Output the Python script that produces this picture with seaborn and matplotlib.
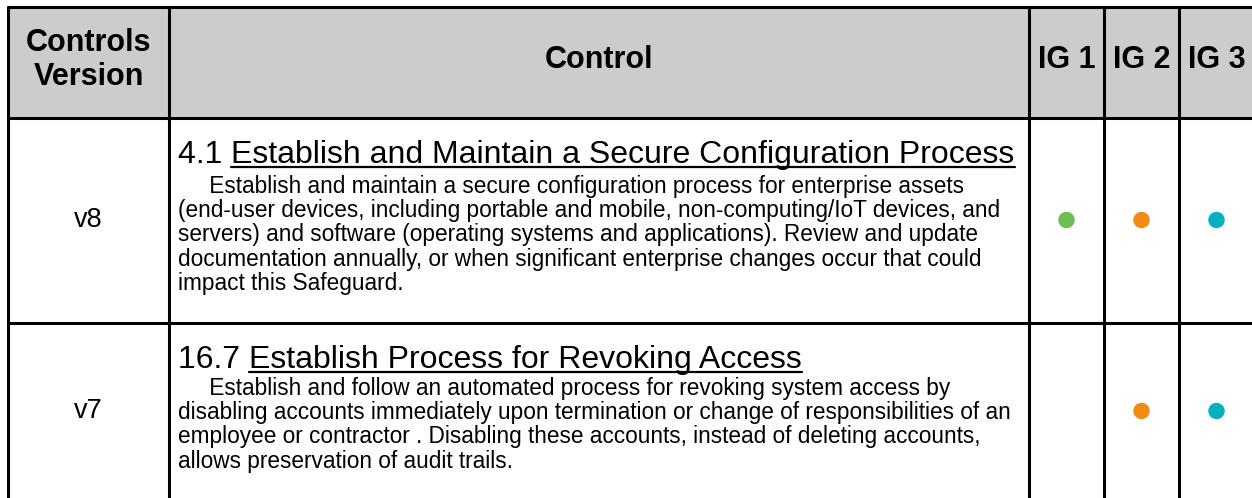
"""
CIS safeguard mapping table, redrawn with matplotlib + seaborn.
"""
import pandas as pd
import matplotlib
matplotlib.use("Agg")
import matplotlib.pyplot as plt
import seaborn as sns

# ── table content ──────────────────────────────────────────────────────
headers = ["Controls\nVersion", "Control", "IG 1", "IG 2", "IG 3"]
versions = ["v8", "v7"]
control_ids = ["4.1", "16.7"]
control_titles = [
    "Establish and Maintain a Secure Configuration Process",
    "Establish Process for Revoking Access",
]
control_text = [
    [
        "     Establish and maintain a secure configuration process for enterprise assets",
        "(end-user devices, including portable and mobile, non-computing/IoT devices, and",
        "servers) and software (operating systems and applications). Review and update",
        "documentation annually, or when significant enterprise changes occur that could",
        "impact this Safeguard.",
    ],
    [
        "     Establish and follow an automated process for revoking system access by",
        "disabling accounts immediately upon termination or change of responsibilities of an",
        "employee or contractor . Disabling these accounts, instead of deleting accounts,",
        "allows preservation of audit trails.",
    ],
]
ig_groups = ["IG 1", "IG 2", "IG 3"]
ig1 = [True, False]
ig2 = [True, True]
ig3 = [True, True]
ig_colors = {"IG 1": "#6EBE53", "IG 2": "#F28B11", "IG 3": "#02B1BF"}

# ── layout (pixels) ────────────────────────────────────────────────────
W, H = 1252, 498
col_edges = [8, 169, 1029, 1104, 1179, 1254]
row_edges = [7, 118, 323, 510]
row_mid = [220, 411]
title_base = [163, 368]
body_base0 = [192.5, 394.5]
line_gap = 24.4
text_x = 178

sns.set_theme(style="white")
plt.rcParams["font.family"] = ["Liberation Sans", "DejaVu Sans"]

fig = plt.figure(figsize=(W / 100, H / 100), dpi=100)
ax = fig.add_axes([0, 0, 1, 1])
ax.set_xlim(0, W)
ax.set_ylim(H, 0)
ax.axis("off")

# header background
ax.fill_between([col_edges[0], col_edges[-1]], row_edges[0], row_edges[1],
                color="#CCCCCC", zorder=0)

# grid lines
lw = 2.2
for x in col_edges:
    ax.plot([x, x], [row_edges[0], row_edges[-1]], color="black", lw=lw, zorder=3)
for y in row_edges:
    ax.plot([col_edges[0], col_edges[-1]], [y, y], color="black", lw=lw, zorder=3)

# header labels
for i, h in enumerate(headers):
    cx = (col_edges[i] + col_edges[i + 1]) / 2
    ax.text(cx, 60, h, ha="center", va="center",
            fontsize=22, fontweight="bold", linespacing=1.2, color="black")

fig.canvas.draw()
renderer = fig.canvas.get_renderer()

for r in range(len(versions)):
    ax.text((col_edges[0] + col_edges[1]) / 2, row_mid[r], versions[r],
            ha="center", va="center", fontsize=19.5, color="black")

    prefix = ax.text(text_x, title_base[r], control_ids[r] + " ", ha="left",
                     va="baseline", fontsize=23, color="black")
    pb = prefix.get_window_extent(renderer)
    title = ax.text(pb.x1, title_base[r], control_titles[r], ha="left",
                    va="baseline", fontsize=23, color="black")
    tb = title.get_window_extent(renderer)
    uy = title_base[r] + 4
    ax.plot([tb.x0, tb.x1], [uy, uy], color="black", lw=1.6)

    for k, line in enumerate(control_text[r]):
        ax.text(text_x, body_base0[r] + k * line_gap, line, ha="left", va="baseline",
                fontsize=16.3, color="black")

# implementation group dots
ig_df = pd.DataFrame({
    "row": list(range(len(versions))) * 3,
    "group": ["IG 1"] * 2 + ["IG 2"] * 2 + ["IG 3"] * 2,
    "flag": ig1 + ig2 + ig3,
})
ig_df = ig_df[ig_df["flag"]].copy()
ig_centers = {g: (col_edges[2 + i] + col_edges[3 + i]) / 2 for i, g in enumerate(ig_groups)}
ig_df["x"] = ig_df["group"].map(ig_centers)
ig_df["y"] = ig_df["row"].map(lambda i: row_mid[i])
sns.scatterplot(data=ig_df, x="x", y="y", hue="group", palette=ig_colors,
                s=140, linewidth=0, legend=False, ax=ax, zorder=4)
ax.set_xlim(0, W)
ax.set_ylim(H, 0)

fig.savefig("out.png", dpi=100)
